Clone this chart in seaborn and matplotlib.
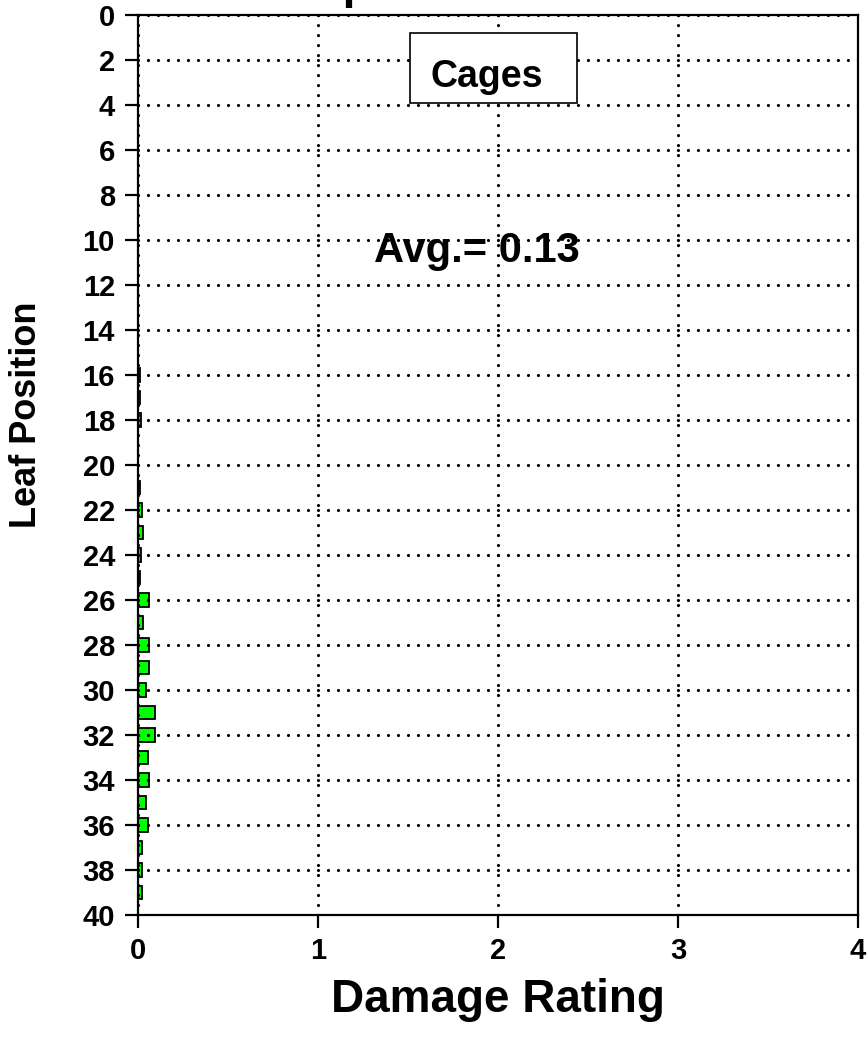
import matplotlib
matplotlib.use("Agg")
import matplotlib.pyplot as plt
from matplotlib.patches import Rectangle
import pandas as pd
import seaborn as sns

# leaf position (from top) and mean damage rating for the caged plants
leaf_pos = [16, 17, 18, 19, 20, 21, 22, 23, 24, 25, 26, 27,
            28, 29, 30, 31, 32, 33, 34, 35, 36, 37, 38, 39]
damage = [0.013, 0.013, 0.015, 0.0, 0.0, 0.013, 0.024, 0.03, 0.02, 0.013, 0.063, 0.03,
          0.063, 0.063, 0.043, 0.094, 0.094, 0.054, 0.063, 0.044, 0.055, 0.024, 0.024, 0.024]
y_ticks = list(range(0, 41, 2))
x_ticks = [0, 1, 2, 3, 4]

df = pd.DataFrame({'Leaf': leaf_pos, 'Damage': damage})

sns.set_style('white')
plt.rcParams['font.family'] = ['Liberation Sans', 'DejaVu Sans']
plt.rcParams['font.weight'] = 'bold'
plt.rcParams['text.color'] = 'black'
plt.rcParams['axes.labelcolor'] = 'black'
plt.rcParams['xtick.color'] = 'black'
plt.rcParams['ytick.color'] = 'black'

fig = plt.figure(figsize=(8.67, 10.39), dpi=100)
ax = fig.add_axes([0.159, 0.1193, 0.8306, 0.8663])

sns.barplot(data=df, x='Damage', y='Leaf', orient='h', native_scale=True,
            width=0.6, color='#00ff00', saturation=1,
            edgecolor='black', linewidth=1.3, ax=ax, zorder=2)

ax.set_xlim(0, 4)
ax.set_ylim(40, 0)
ax.set_xticks(x_ticks)
ax.set_yticks(y_ticks)
ax.set_xticklabels([str(t) for t in x_ticks], fontsize=21, fontweight='bold')
ax.set_yticklabels([str(t) for t in y_ticks], fontsize=21, fontweight='bold')

# dotted grid, about 10 px between dots
ax.set_axisbelow(False)
ax.grid(True, color='black', linestyle=(0, (0.01, 3.12)), linewidth=2.3,
        dash_capstyle='round', zorder=1)

for s in ax.spines.values():
    s.set_visible(True)
    s.set_color('black')
    s.set_linewidth(1.6)

ax.tick_params(axis='both', direction='out', length=9.5, width=1.6, color='black',
               left=True, bottom=True)
ax.tick_params(axis='y', pad=7)
ax.tick_params(axis='x', pad=6)

ax.set_xlabel('Damage Rating', fontsize=33, fontweight='bold', labelpad=10)
ax.set_ylabel('Leaf Position', fontsize=26, fontweight='bold')
ax.yaxis.set_label_coords(-0.131, 0.556)

# annotations
ax.add_patch(Rectangle((1.511, 0.8), 0.928, 3.11, facecolor='white',
                       edgecolor='black', linewidth=1.2, zorder=5))
ax.text(1.94, 3.2, 'Cages', fontsize=27, fontweight='bold', ha='center', va='baseline',
        zorder=6)
ax.text(1.883, 10.98, 'Avg.= 0.13', fontsize=30, fontweight='bold', ha='center',
        va='baseline', zorder=0.5)

# title sits mostly above the canvas
fig.text(0.603, 1.002, 'Top to Bottom Profile', fontsize=33, fontweight='bold',
         ha='center', va='baseline')

fig.savefig('out.png', dpi=100)
